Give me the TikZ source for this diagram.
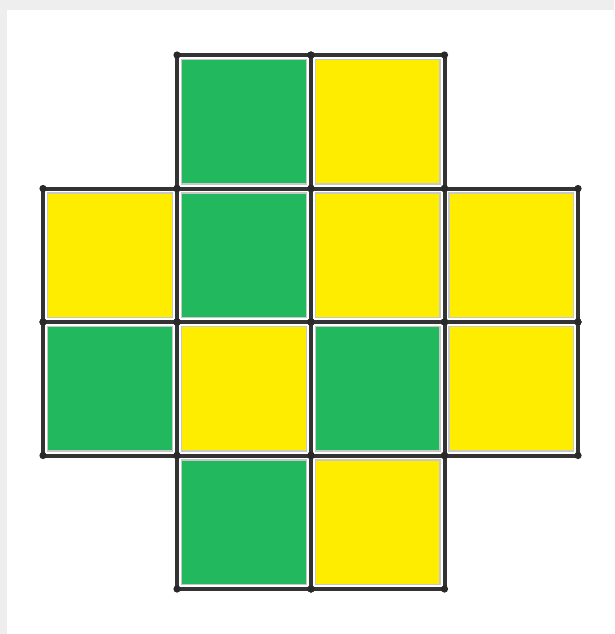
\documentclass[tikz,border=0pt]{standalone}
\definecolor{gbg}{HTML}{EEEEEE}
\definecolor{cgreen}{HTML}{22B95E}
\definecolor{cyellow}{HTML}{FFED00}
\definecolor{gline}{HTML}{333333}
\definecolor{ginset}{HTML}{C8C8C8}
\begin{document}
\begin{tikzpicture}[x=1pt,y=-1pt,
  fillcell/.style={line width=1.5pt,draw=ginset},
  gridline/.style={draw=gline,line width=4pt,line cap=butt},
  vdot/.style={fill=gline!80!black}]
\useasboundingbox (0,0) rectangle (614,634);
\fill[gbg] (0,0) rectangle (614,634);
\fill[white] (7,10) rectangle (614,634);
\def\xs{{43,177,311,444.5,578}}
\def\ys{{55,188.5,322,455.5,589}}
% cells: col,row,color
\foreach \c/\r/\col in {1/0/cgreen,2/0/cyellow,
  0/1/cyellow,1/1/cgreen,2/1/cyellow,3/1/cyellow,
  0/2/cgreen,1/2/cyellow,2/2/cgreen,3/2/cyellow,
  1/3/cgreen,2/3/cyellow}{
  \pgfmathsetmacro\xa{\xs[\c]}
  \pgfmathsetmacro\xb{\xs[\c+1]}
  \pgfmathsetmacro\ya{\ys[\r]}
  \pgfmathsetmacro\yb{\ys[\r+1]}
  \filldraw[fillcell,fill=\col] (\xa+4.5,\ya+4.5) rectangle (\xb-4.5,\yb-4.5);
  \draw[gridline] (\xa,\ya) rectangle (\xb,\yb);
  \foreach \px/\py in {\xa/\ya,\xb/\ya,\xa/\yb,\xb/\yb}{
    \fill[vdot] (\px,\py) circle (3.6);
  }
}
\end{tikzpicture}
\end{document}
